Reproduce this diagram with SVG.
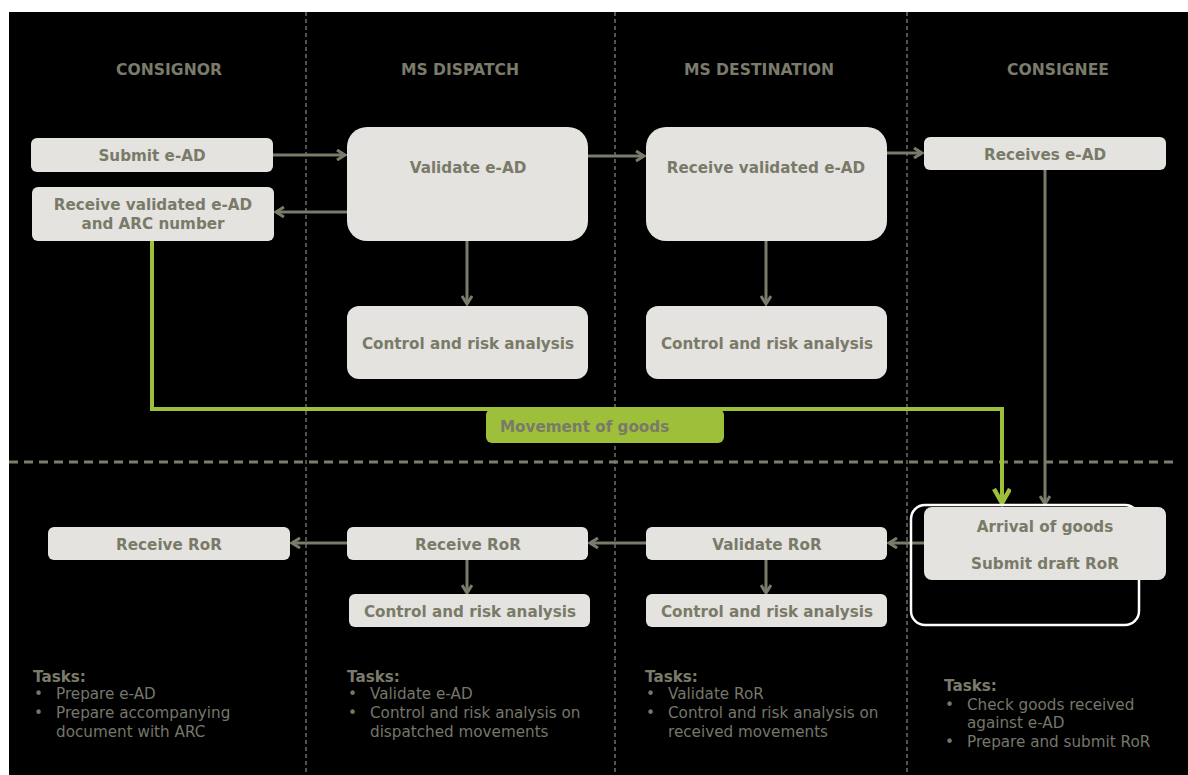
<svg xmlns="http://www.w3.org/2000/svg" width="1188" height="775" viewBox="0 0 1188 775">
<defs>
<style>
.bg{fill:#000}
.box{fill:#e4e3df}
.bt{font-family:"DejaVu Sans",Verdana,sans-serif;font-weight:bold;font-size:15.2px;fill:#7a7a69;text-anchor:middle}
.hd{font-family:"DejaVu Sans",Verdana,sans-serif;font-weight:bold;font-size:15.6px;fill:#7b7b6b;text-anchor:middle}
.tk{font-family:"DejaVu Sans",Verdana,sans-serif;font-size:15.2px;fill:#76766a}
.tkb{font-family:"DejaVu Sans",Verdana,sans-serif;font-size:15.2px;font-weight:bold;fill:#7b7b6b}
.div{stroke:#8a8a7a;stroke-width:1.2;stroke-dasharray:4,3;fill:none}
.hdiv{stroke:#7d7d6e;stroke-width:3;stroke-dasharray:9,6;fill:none}
.con{stroke:#7b7b6c;stroke-width:3;fill:none;marker-end:url(#ah)}
.green{stroke:#9dbf3a;stroke-width:4;fill:none}
</style>
<marker id="ah" markerWidth="12" markerHeight="12" refX="9" refY="6" orient="auto" markerUnits="userSpaceOnUse">
<path d="M1,1 L9,6 L1,11" fill="none" stroke="#7b7b6c" stroke-width="3"/>
</marker>
<marker id="gah" markerWidth="20" markerHeight="20" refX="15" refY="9" orient="auto" markerUnits="userSpaceOnUse">
<path d="M1,1 L15,9 L1,17" fill="none" stroke="#9dbf3a" stroke-width="4.5"/>
</marker>
</defs>
<rect class="bg" x="9" y="12" width="1179" height="763"/>
<g id="dividers">
<line class="div" x1="306" y1="12" x2="306" y2="775"/>
<line class="div" x1="615" y1="12" x2="615" y2="775"/>
<line class="div" x1="907" y1="12" x2="907" y2="775"/>
<line class="hdiv" x1="9" y1="462" x2="1176" y2="462"/>
</g>
<g id="headers">
<text class="hd" x="169" y="75">CONSIGNOR</text>
<text class="hd" x="460" y="75">MS DISPATCH</text>
<text class="hd" x="759" y="75">MS DESTINATION</text>
<text class="hd" x="1058" y="75">CONSIGNEE</text>
</g>
<g id="connectors">
<line class="con" x1="273" y1="155" x2="345" y2="155"/>
<line class="con" x1="347" y1="212" x2="276" y2="212"/>
<line class="con" x1="588" y1="156" x2="644" y2="156"/>
<line class="con" x1="887" y1="153" x2="922" y2="153"/>
<line class="con" x1="467" y1="241" x2="467" y2="304"/>
<line class="con" x1="766" y1="241" x2="766" y2="304"/>
<line class="con" x1="1045" y1="169" x2="1045" y2="504"/>
<line class="con" x1="924" y1="543" x2="889" y2="543"/>
<line class="con" x1="646" y1="543" x2="590" y2="543"/>
<line class="con" x1="347" y1="543" x2="292" y2="543"/>
<line class="con" x1="467" y1="559" x2="467" y2="593"/>
<line class="con" x1="766" y1="559" x2="766" y2="593"/>
<polyline class="green" points="152,241 152,409 1002,409 1002,503" marker-end="url(#gah)"/>
</g>
<g id="movement">
<rect x="486" y="409" width="238" height="34" rx="6" fill="#9dbf3a"/>
<text class="bt" x="500" y="432" style="text-anchor:start">Movement of goods</text>
</g>
<g id="n-submit"><rect class="box" x="31" y="138" width="242" height="34" rx="6"/><text class="bt" x="152" y="161">Submit e-AD</text></g>
<g id="n-recvval"><rect class="box" x="32" y="187" width="242" height="54" rx="6"/><text class="bt" x="153" y="210">Receive validated e-AD</text><text class="bt" x="153" y="229">and ARC number</text></g>
<g id="n-validate"><rect class="box" x="347" y="127" width="241" height="114" rx="20"/><text class="bt" x="468" y="173">Validate e-AD</text></g>
<g id="n-ctrl1"><rect class="box" x="347" y="306" width="241" height="73" rx="12"/><text class="bt" x="468" y="349">Control and risk analysis</text></g>
<g id="n-recvvalid"><rect class="box" x="646" y="127" width="241" height="114" rx="20"/><text class="bt" x="766" y="173">Receive validated e-AD</text></g>
<g id="n-ctrl2"><rect class="box" x="646" y="306" width="241" height="73" rx="12"/><text class="bt" x="767" y="349">Control and risk analysis</text></g>
<g id="n-receives"><rect class="box" x="924" y="137" width="242" height="33" rx="6"/><text class="bt" x="1045" y="160">Receives e-AD</text></g>
<g id="n-arrival">
<rect x="911" y="505" width="228" height="120" rx="14" fill="none" stroke="#ffffff" stroke-width="2.5"/>
<rect class="box" x="924" y="507" width="242" height="73" rx="8"/>
<text class="bt" x="1045" y="532">Arrival of goods</text>
<text class="bt" x="1045" y="569">Submit draft RoR</text>
</g>
<g id="n-validror"><rect class="box" x="646" y="527" width="241" height="33" rx="6"/><text class="bt" x="767" y="550">Validate RoR</text></g>
<g id="n-ctrl4"><rect class="box" x="646" y="594" width="241" height="33" rx="6"/><text class="bt" x="767" y="617">Control and risk analysis</text></g>
<g id="n-recvror2"><rect class="box" x="347" y="527" width="241" height="33" rx="6"/><text class="bt" x="468" y="550">Receive RoR</text></g>
<g id="n-ctrl3"><rect class="box" x="349" y="594" width="241" height="33" rx="6"/><text class="bt" x="470" y="617">Control and risk analysis</text></g>
<g id="n-recvror1"><rect class="box" x="48" y="527" width="242" height="33" rx="6"/><text class="bt" x="169" y="550">Receive RoR</text></g>
<g id="tasks1">
<text class="tkb" x="33" y="682">Tasks:</text>
<text class="tk" x="34" y="699">•</text><text class="tk" x="56" y="699">Prepare e-AD</text>
<text class="tk" x="34" y="718">•</text><text class="tk" x="56" y="718">Prepare accompanying</text>
<text class="tk" x="56" y="737">document with ARC</text>
</g>
<g id="tasks2">
<text class="tkb" x="347" y="682">Tasks:</text>
<text class="tk" x="348" y="699">•</text><text class="tk" x="370" y="699">Validate e-AD</text>
<text class="tk" x="348" y="718">•</text><text class="tk" x="370" y="718">Control and risk analysis on</text>
<text class="tk" x="370" y="737">dispatched movements</text>
</g>
<g id="tasks3">
<text class="tkb" x="645" y="682">Tasks:</text>
<text class="tk" x="646" y="699">•</text><text class="tk" x="668" y="699">Validate RoR</text>
<text class="tk" x="646" y="718">•</text><text class="tk" x="668" y="718">Control and risk analysis on</text>
<text class="tk" x="668" y="737">received movements</text>
</g>
<g id="tasks4">
<text class="tkb" x="944" y="691">Tasks:</text>
<text class="tk" x="945" y="710">•</text><text class="tk" x="967" y="710">Check goods received</text>
<text class="tk" x="967" y="728">against e-AD</text>
<text class="tk" x="945" y="747">•</text><text class="tk" x="967" y="747">Prepare and submit RoR</text>
</g>
</svg>
